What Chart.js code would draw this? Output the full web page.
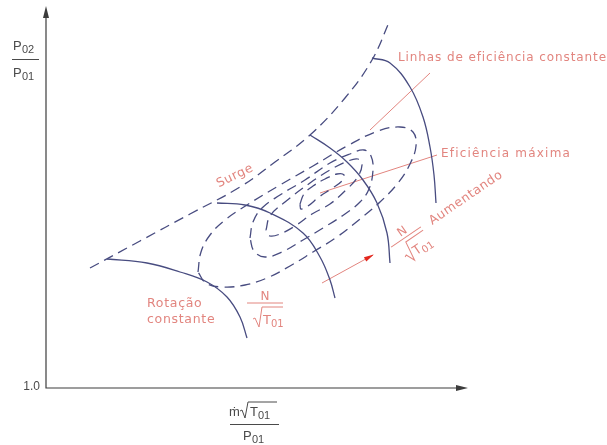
<!DOCTYPE html>
<html>
<head>
<meta charset="utf-8">
<script src="https://cdn.jsdelivr.net/npm/chart.js@4/dist/chart.umd.min.js"></script>
<style>
    html, body { margin: 0; padding: 0; background: #fff; }
    canvas { display: block; }
</style>
</head>
<body>
<canvas id="mapChart" width="607" height="445"></canvas>
<script>
// Compressor map: x = corrected mass flow, y = pressure ratio P02/P01 (diagram units)
const surgeLine = [[0.44, 2.20], [0.94, 2.47], [1.44, 2.74], [1.94, 3.01], [2.29, 3.26], [2.64, 3.53], [2.99, 3.90], [3.26, 4.28], [3.44, 4.68]];

// constant speed lines N/sqrt(T01), lowest first
const speedLine1 = [[0.61, 2.29], [1.01, 2.25], [1.34, 2.16], [1.61, 2.06], [1.81, 1.91], [1.94, 1.71], [2.01, 1.50]];
const speedLine2 = [[1.71, 2.85], [1.99, 2.83], [2.24, 2.75], [2.57, 2.55], [2.74, 2.31], [2.84, 2.08], [2.89, 1.90]];
const speedLine3 = [[2.64, 3.53], [2.84, 3.40], [3.01, 3.26], [3.17, 3.08], [3.31, 2.85], [3.41, 2.55], [3.44, 2.25]];
const speedLine4 = [[3.26, 4.30], [3.44, 4.25], [3.64, 4.01], [3.77, 3.71], [3.84, 3.41], [3.88, 3.13], [3.90, 2.85]];

// constant efficiency contours, outer to inner
const effOuter = [[1.52, 2.16], [1.55, 2.36], [1.64, 2.53], [1.79, 2.68], [2.01, 2.83], [2.34, 3.03], [2.67, 3.22], [3.01, 3.42], [3.32, 3.57], [3.54, 3.61], [3.67, 3.56], [3.70, 3.42], [3.64, 3.24], [3.52, 3.05], [3.34, 2.86], [3.14, 2.69], [2.91, 2.51], [2.67, 2.36], [2.44, 2.22], [2.21, 2.10], [1.99, 2.03], [1.76, 2.01], [1.60, 2.05], [1.52, 2.16]];
const effMiddle = [[2.04, 2.50], [2.07, 2.66], [2.16, 2.80], [2.34, 2.93], [2.59, 3.08], [2.84, 3.25], [3.04, 3.34], [3.18, 3.38], [3.25, 3.32], [3.27, 3.18], [3.23, 2.99], [3.14, 2.86], [2.99, 2.74], [2.77, 2.60], [2.57, 2.48], [2.36, 2.36], [2.19, 2.31], [2.08, 2.37], [2.04, 2.50]];
const effHigh = [[2.20, 2.58], [2.24, 2.72], [2.39, 2.86], [2.64, 3.05], [2.84, 3.18], [3.02, 3.27], [3.12, 3.29], [3.16, 3.23], [3.11, 3.10], [3.00, 2.98], [2.84, 2.84], [2.66, 2.74], [2.49, 2.62], [2.34, 2.54], [2.24, 2.52], [2.20, 2.58]];
const effInner = [[2.54, 2.84], [2.58, 2.94], [2.67, 3.02], [2.79, 3.09], [2.91, 3.14], [2.98, 3.13], [2.96, 3.07], [2.85, 2.99], [2.73, 2.91], [2.62, 2.82], [2.55, 2.79], [2.54, 2.84]];

// leader lines and the "increasing speed" arrow
const leaderEffLines = [[3.84, 4.15], [3.24, 3.58]];
const leaderEffMax = [[3.91, 3.33], [2.74, 2.95]];
const speedArrow = [[2.76, 2.05], [3.27, 2.33]];

const yTicks = [1.0];

const NAVY = '#484c80';
const PINK = '#e2857f';
const AXIS = '#3c3c3c';
const FONT = '"DejaVu Sans", "Liberation Sans", sans-serif';

function pts(arr) {
    return arr.map(function (p) { return { x: p[0], y: p[1] }; });
}

function curve(arr, dashed) {
    return {
        data: pts(arr),
        showLine: true,
        borderColor: NAVY,
        borderWidth: 1.3,
        borderDash: dashed ? [10, 6] : [],
        pointRadius: 0,
        tension: 0.4,
        fill: false
    };
}

function leader(arr) {
    return {
        data: pts(arr),
        showLine: true,
        borderColor: PINK,
        borderWidth: 1,
        pointRadius: 0,
        tension: 0,
        fill: false
    };
}

// N over radical T01, drawn around the fraction bar centre
function drawFraction(ctx, cx, cy, angle) {
    ctx.save();
    ctx.translate(cx, cy);
    ctx.rotate(angle);
    ctx.strokeStyle = PINK;
    ctx.fillStyle = PINK;
    ctx.lineWidth = 1;
    ctx.beginPath();
    ctx.moveTo(-18, 0);
    ctx.lineTo(18, 0);
    ctx.stroke();
    ctx.textAlign = 'center';
    ctx.textBaseline = 'alphabetic';
    ctx.font = '12px ' + FONT;
    ctx.fillText('N', 0, -3);
    ctx.beginPath();
    ctx.moveTo(-12, 16);
    ctx.lineTo(-10, 15);
    ctx.lineTo(-6, 24);
    ctx.lineTo(-3, 4);
    ctx.lineTo(18, 4);
    ctx.stroke();
    ctx.textAlign = 'left';
    ctx.font = '13px ' + FONT;
    ctx.fillText('T', -2, 21);
    ctx.font = '10px ' + FONT;
    ctx.fillText('01', 6, 24);
    ctx.restore();
}

function drawRotated(ctx, text, x, y, angle, size) {
    ctx.save();
    ctx.translate(x, y);
    ctx.rotate(angle);
    ctx.font = size + 'px ' + FONT;
    ctx.fillStyle = PINK;
    ctx.letterSpacing = '0.6px';
    ctx.textAlign = 'center';
    ctx.textBaseline = 'middle';
    ctx.fillText(text, 0, 0);
    ctx.restore();
}

const diagramPlugin = {
    id: 'diagram',
    afterDatasetsDraw(chart) {
        const ctx = chart.ctx;
        const xs = chart.scales.x;
        const ys = chart.scales.y;
        const X = function (v) { return xs.getPixelForValue(v); };
        const Y = function (v) { return ys.getPixelForValue(v); };
        const x0 = X(xs.min), y0 = Y(ys.min);
        const x1 = X(xs.max), y1 = Y(ys.max);

        // axes with arrow heads
        ctx.save();
        ctx.strokeStyle = AXIS;
        ctx.fillStyle = AXIS;
        ctx.lineWidth = 1.2;
        ctx.beginPath();
        ctx.moveTo(x0, y1 + 6);
        ctx.lineTo(x0, y0);
        ctx.lineTo(x1 - 6, y0);
        ctx.stroke();
        ctx.beginPath();
        ctx.moveTo(x0, y1 - 2);
        ctx.lineTo(x0 - 3, y1 + 10);
        ctx.lineTo(x0 + 3, y1 + 10);
        ctx.closePath();
        ctx.fill();
        ctx.beginPath();
        ctx.moveTo(x1 + 2, y0);
        ctx.lineTo(x1 - 10, y0 - 3);
        ctx.lineTo(x1 - 10, y0 + 3);
        ctx.closePath();
        ctx.fill();

        // tick label at the origin
        ctx.font = '12px "Liberation Sans", Arial, sans-serif';
        ctx.fillStyle = '#4a4a4a';
        ctx.textAlign = 'right';
        ctx.textBaseline = 'middle';
        yTicks.forEach(function (t) {
            ctx.fillText(t.toFixed(1), x0 - 6, Y(t) - 1);
        });

        // y axis title P02 / P01
        ctx.strokeStyle = '#4a4a4a';
        ctx.lineWidth = 1;
        ctx.beginPath();
        ctx.moveTo(12, 59.5);
        ctx.lineTo(39, 59.5);
        ctx.stroke();
        ctx.textAlign = 'left';
        ctx.textBaseline = 'alphabetic';
        ctx.font = '13px "Liberation Sans", Arial, sans-serif';
        ctx.fillText('P', 13, 50);
        ctx.fillText('P', 13, 77);
        ctx.font = '11px "Liberation Sans", Arial, sans-serif';
        ctx.fillText('02', 22, 53);
        ctx.fillText('01', 22, 80);

        // x axis title  m-dot sqrt(T01) / P01
        ctx.beginPath();
        ctx.moveTo(230, 424.5);
        ctx.lineTo(279, 424.5);
        ctx.stroke();
        ctx.font = '13px "Liberation Sans", Arial, sans-serif';
        ctx.fillText('\u1E41', 229, 416);
        ctx.fillText('T', 250, 416);
        ctx.fillText('P', 243, 440);
        ctx.font = '11px "Liberation Sans", Arial, sans-serif';
        ctx.fillText('01', 258, 419);
        ctx.fillText('01', 252, 443);
        ctx.beginPath();
        ctx.moveTo(240, 411);
        ctx.lineTo(242, 410);
        ctx.lineTo(245, 418);
        ctx.lineTo(248, 402);
        ctx.lineTo(277, 402);
        ctx.stroke();
        ctx.restore();

        // annotations
        ctx.save();
        ctx.fillStyle = PINK;
        ctx.font = '12px ' + FONT;
        ctx.letterSpacing = '0.9px';
        ctx.textAlign = 'left';
        ctx.textBaseline = 'middle';
        ctx.fillText('Linhas de efici\u00eancia constante', 398, 58);
        ctx.letterSpacing = '1.2px';
        ctx.fillText('Efici\u00eancia m\u00e1xima', 441, 154);
        ctx.font = '12.5px ' + FONT;
        ctx.letterSpacing = '0.7px';
        ctx.fillText('Rota\u00e7\u00e3o', 147, 304);
        ctx.fillText('constante', 147, 320);
        ctx.restore();

        drawRotated(ctx, 'Surge', 235, 176, -0.45, 12.5);
        drawRotated(ctx, 'Aumentando', 466, 198, -0.6, 12.5);
        drawFraction(ctx, 265, 303, 0);
        drawFraction(ctx, 406, 237, -0.6);

        // red arrow head at the end of the speed arrow
        const ax = X(speedArrow[1][0]), ay = Y(speedArrow[1][1]);
        const bx = X(speedArrow[0][0]), by = Y(speedArrow[0][1]);
        const a = Math.atan2(ay - by, ax - bx);
        ctx.save();
        ctx.translate(ax, ay);
        ctx.rotate(a);
        ctx.fillStyle = '#e3261d';
        ctx.beginPath();
        ctx.moveTo(1, 0);
        ctx.lineTo(-9, -2.5);
        ctx.lineTo(-9, 2.5);
        ctx.closePath();
        ctx.fill();
        ctx.restore();
    }
};

new Chart(document.getElementById('mapChart'), {
    type: 'scatter',
    data: {
        datasets: [
            curve(surgeLine, true),
            curve(speedLine1, false),
            curve(speedLine2, false),
            curve(speedLine3, false),
            curve(speedLine4, false),
            curve(effOuter, true),
            curve(effMiddle, true),
            curve(effHigh, true),
            curve(effInner, true),
            leader(leaderEffLines),
            leader(leaderEffMax),
            leader(speedArrow)
        ]
    },
    options: {
        responsive: false,
        animation: false,
        events: [],
        layout: { padding: { left: 46, top: 8, right: 141, bottom: 57 } },
        scales: {
            x: { type: 'linear', min: 0, max: 4.2, display: false },
            y: { type: 'linear', min: 1.0, max: 4.8, display: false }
        },
        plugins: {
            legend: { display: false },
            tooltip: { enabled: false }
        }
    },
    plugins: [diagramPlugin]
});
</script>
</body>
</html>
